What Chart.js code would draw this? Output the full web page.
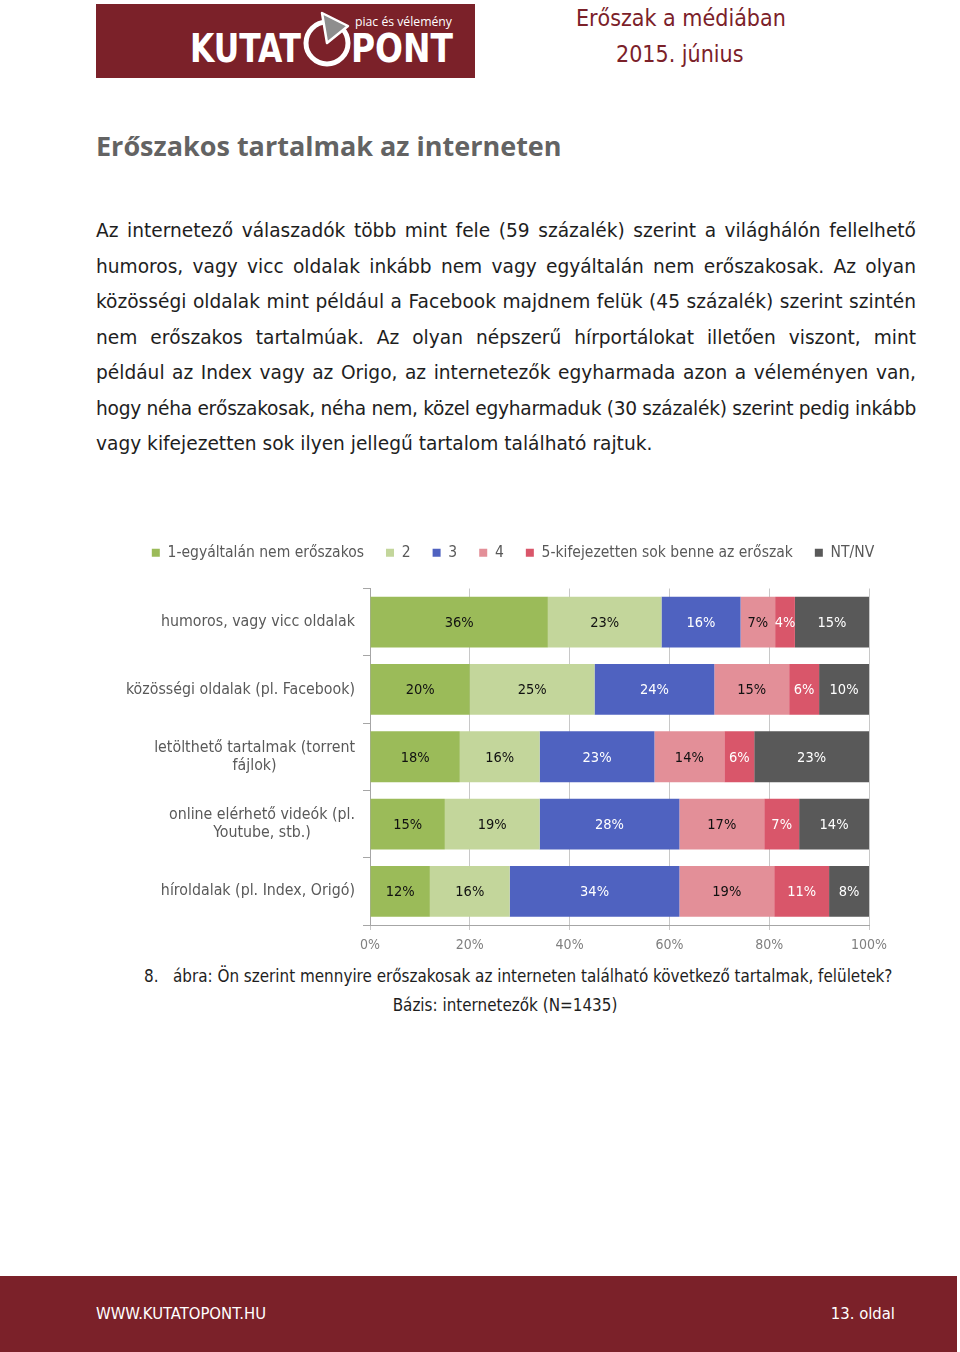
<!DOCTYPE html>
<html lang="hu">
<head>
<meta charset="utf-8">
<script src="https://cdn.jsdelivr.net/npm/chart.js@4.4.1/dist/chart.umd.min.js"></script>
<style>
  html,body{margin:0;padding:0;background:#fff;}
  #page{position:relative;width:960px;height:1352px;overflow:hidden;background:#fff;font-family:"DejaVu Sans Condensed","DejaVu Sans",sans-serif;}
  .hdr{position:absolute;color:#7b2129;font-size:23px;white-space:nowrap;}
  #title{position:absolute;left:96px;top:127px;font-family:"Open Sans",sans-serif;font-weight:bold;font-size:27px;color:#636363;white-space:nowrap;}
  #para{position:absolute;left:96px;top:213px;width:820px;font-family:"DejaVu Sans",sans-serif;font-size:18.6px;line-height:35.5px;color:#1e1e1e;}
  #para div{text-align:justify;text-align-last:justify;white-space:nowrap;}
  #para div.tight{letter-spacing:-0.25px;word-spacing:-1.5px;}
  #para div.last{text-align:left;text-align-last:left;}
  #chartBox{position:absolute;left:66px;top:523px;width:894px;height:437px;}
  .cap{position:absolute;font-size:16.9px;color:#1e1e1e;white-space:nowrap;}
  #footer{position:absolute;left:0;top:1276px;width:957px;height:76px;background:#7b2129;}
  #footer span{position:absolute;top:28px;color:#fff;font-size:16.5px;}
</style>
</head>
<body>
<div id="page">
  <svg style="position:absolute;left:96px;top:4px" width="379" height="74">
    <rect width="379" height="74" fill="#7b2129"/>
    <text x="94" y="58" font-family="DejaVu Sans Condensed" font-weight="bold" font-size="39" fill="#fff" textLength="111" lengthAdjust="spacingAndGlyphs">KUTAT</text>
    <circle cx="231" cy="39" r="21" fill="none" stroke="#fff" stroke-width="5"/>
    <path d="M231 39 L226 9 L252 22 Z" fill="#8e8e8e" stroke="#fff" stroke-width="2.5" stroke-linejoin="round"/>
    <text x="255" y="58" font-family="DejaVu Sans Condensed" font-weight="bold" font-size="39" fill="#fff" textLength="102" lengthAdjust="spacingAndGlyphs">PONT</text>
    <text x="259" y="22" font-family="Open Sans" font-size="12" fill="#fff" textLength="97" lengthAdjust="spacingAndGlyphs">piac és vélemény</text>
  </svg>
  <div class="hdr" style="left:576px;top:5px;">Erőszak a médiában</div>
  <div class="hdr" style="left:616px;top:41px;">2015. június</div>

  <div id="title">Erőszakos tartalmak az interneten</div>

  <div id="para">
    <div>Az internetező válaszadók több mint fele (59 százalék) szerint a világhálón fellelhető</div>
    <div>humoros, vagy vicc oldalak inkább nem vagy egyáltalán nem erőszakosak. Az olyan</div>
    <div>közösségi oldalak mint például a Facebook majdnem felük (45 százalék) szerint szintén</div>
    <div>nem erőszakos tartalmúak. Az olyan népszerű hírportálokat illetően viszont, mint</div>
    <div>például az Index vagy az Origo, az internetezők egyharmada azon a véleményen van,</div>
    <div class="tight">hogy néha erőszakosak, néha nem, közel egyharmaduk (30 százalék) szerint pedig inkább</div>
    <div class="last">vagy kifejezetten sok ilyen jellegű tartalom található rajtuk.</div>
  </div>

  <div id="chartBox"><canvas id="c"></canvas></div>

  <div class="cap" style="left:144px;top:966px;">8.&nbsp;&nbsp;&nbsp;ábra: Ön szerint mennyire erőszakosak az interneten található következő tartalmak, felületek?</div>
  <div class="cap" style="left:0;width:1010px;text-align:center;top:995px;">Bázis: internetezők (N=1435)</div>

  <div id="footer">
    <span style="left:96px;">WWW.KUTATOPONT.HU</span>
    <span style="right:62px;">13. oldal</span>
  </div>
</div>

<script>
// ---- data ----
const categories = [
  'humoros, vagy vicc oldalak',
  'közösségi oldalak (pl. Facebook)',
  ['letölthető tartalmak (torrent', 'fájlok)'],
  ['online elérhető videók (pl.', 'Youtube, stb.)'],
  'híroldalak (pl. Index, Origó)'
];
const seriesNames = ['1-egyáltalán nem erőszakos', '2', '3', '4', '5-kifejezetten sok benne az erőszak', 'NT/NV'];
const s1 = [36, 20, 18, 15, 12];
const s2 = [23, 25, 16, 19, 16];
const s3 = [16, 24, 23, 28, 34];
const s4 = [7, 15, 14, 17, 19];
const s5 = [4, 6, 6, 7, 11];
const s6 = [15, 10, 23, 14, 8];
const xTickValues = [0, 20, 40, 60, 80, 100];

const seriesColors = ['#9bbb59', '#c3d69b', '#4f62c0', '#e38f98', '#d9566a', '#595959'];
const labelColors = ['#111', '#111', '#fff', '#111', '#fff', '#fff'];

const allSeries = [s1, s2, s3, s4, s5, s6];
const totals = categories.map((_, i) => allSeries.reduce((a, s) => a + s[i], 0));

const FONT_FAMILY = '"DejaVu Sans Condensed", "DejaVu Sans", sans-serif';
const LABEL_FONT = '14.5px ' + FONT_FAMILY;

const datasets = allSeries.map((s, k) => ({
  label: seriesNames[k],
  data: s.map((v, i) => v / totals[i] * 100),
  raw: s,
  backgroundColor: seriesColors[k],
  borderWidth: 0,
  labelColor: labelColors[k],
  categoryPercentage: 1.0,
  barPercentage: 0.755
}));

const valueLabels = {
  id: 'valueLabels',
  afterDatasetsDraw(chart) {
    const ctx = chart.ctx;
    ctx.save();
    ctx.font = LABEL_FONT;
    ctx.textAlign = 'center';
    ctx.textBaseline = 'middle';
    chart.data.datasets.forEach((ds, di) => {
      const meta = chart.getDatasetMeta(di);
      meta.data.forEach((bar, i) => {
        const p = bar.getProps(['x', 'y', 'base'], true);
        ctx.fillStyle = ds.labelColor;
        ctx.fillText(ds.raw[i] + '%', (p.x + p.base) / 2, p.y + 1);
      });
    });
    ctx.restore();
  }
};

const categoryLabels = {
  id: 'categoryLabels',
  afterDraw(chart) {
    const ctx = chart.ctx;
    const ys = chart.scales.y;
    const right = chart.chartArea.left - 15;
    ctx.save();
    ctx.font = '15.8px ' + FONT_FAMILY;
    ctx.fillStyle = '#595959';
    ctx.textBaseline = 'middle';
    ctx.textAlign = 'center';
    const lh = 18;
    categories.forEach((lab, i) => {
      const lines = Array.isArray(lab) ? lab : [lab];
      const w = Math.max(...lines.map(l => ctx.measureText(l).width));
      const cx = right - w / 2;
      const yc = ys.getPixelForValue(i);
      const y0 = yc - (lines.length - 1) * lh / 2;
      lines.forEach((l, j) => ctx.fillText(l, cx, y0 + j * lh));
    });
    ctx.restore();
  }
};

new Chart(document.getElementById('c'), {
  type: 'bar',
  data: { labels: categories, datasets },
  plugins: [valueLabels, categoryLabels],
  options: {
    indexAxis: 'y',
    responsive: true,
    maintainAspectRatio: false,
    animation: false,
    layout: { padding: 0 },
    plugins: {
      tooltip: { enabled: false },
      legend: {
        position: 'top',
        labels: {
          boxWidth: 8,
          boxHeight: 8,
          padding: 22,
          color: '#595959',
          font: { family: FONT_FAMILY, size: 15.5 }
        }
      }
    },
    scales: {
      x: {
        stacked: true,
        min: 0,
        max: 100,
        afterBuildTicks(s) { s.ticks = xTickValues.map(v => ({ value: v })); },
        afterFit(s) { s.height = 35; },
        ticks: {
          callback: v => v + '%',
          color: '#7f7f7f',
          padding: 7,
          font: { family: FONT_FAMILY, size: 14 }
        },
        grid: { color: '#c8c8c8', tickLength: 5, lineWidth: 1 },
        border: { color: '#a6a6a6' }
      },
      y: {
        stacked: true,
        afterFit(s) { s.width = 304; },
        ticks: { display: false },
        grid: { drawOnChartArea: false, tickLength: 7, color: '#a6a6a6', offset: true },
        border: { color: '#a6a6a6' }
      },
      yR: {
        type: 'linear',
        position: 'right',
        display: true,
        afterFit(s) { s.width = 91; },
        ticks: { display: false },
        grid: { display: false },
        border: { display: false }
      },
      xT: {
        type: 'linear',
        position: 'top',
        display: true,
        afterFit(s) { s.height = 18; },
        ticks: { display: false },
        grid: { display: false },
        border: { display: false }
      }
    }
  }
});
</script>
</body>
</html>
